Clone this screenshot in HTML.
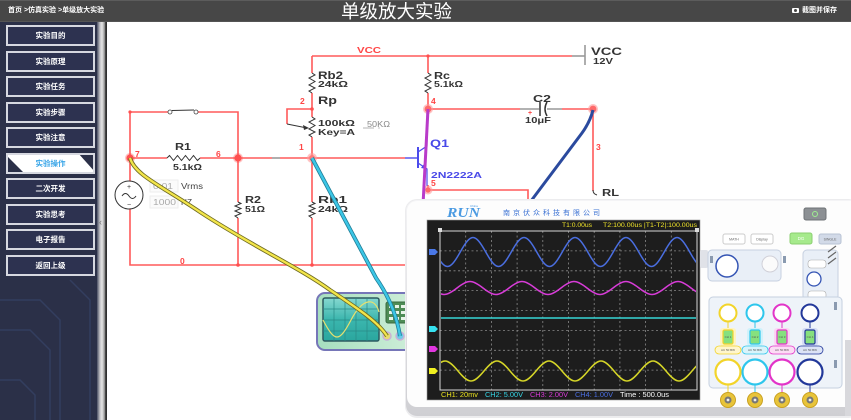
<!DOCTYPE html>
<html><head><meta charset="utf-8">
<style>
*{margin:0;padding:0;box-sizing:border-box}
body{width:851px;height:420px;overflow:hidden;background:#fff;position:relative;font-family:"Liberation Sans","Noto Sans CJK SC",sans-serif}
.hdr{position:absolute;left:0;top:0;width:851px;height:22px;background:#474747;border-top:1px solid #5c5c5c;border-bottom:1px solid #555}
.crumb{position:absolute;left:8px;top:6px;font-size:7px;line-height:9px;color:#fff;white-space:nowrap;font-weight:bold}
.title{position:absolute;left:341px;top:0;font-size:18.5px;line-height:22px;color:#fff;white-space:nowrap;font-family:"Noto Sans CJK SC",sans-serif}
.save{position:absolute;left:802px;top:6px;font-size:7px;line-height:9px;color:#fff;white-space:nowrap;font-weight:bold}
.cam{position:absolute;left:792px;top:8px;width:7px;height:5px;background:#fff;border-radius:1px}
.cam:after{content:"";position:absolute;left:2px;top:1px;width:3px;height:3px;border-radius:50%;background:#474747}
.side{position:absolute;left:0;top:22px;width:97px;height:398px;background:#2b3048}
.btn{position:absolute;left:6px;width:89px;height:21px;border:2px solid #d6d8e0;background:#2d3250;color:#fff;font-size:7.5px;font-weight:bold;text-align:center;line-height:17px;font-family:"Noto Sans CJK SC",sans-serif}
.act{background:#fff;color:#3aa6e8;overflow:hidden}
svg{position:absolute;left:0;top:0}
</style></head><body>
<div class="side"></div>
<svg width="851" height="420" viewBox="0 0 851 420">
<defs>
<linearGradient id="sb" x1="0" x2="1" y1="0" y2="0">
<stop offset="0" stop-color="#4a4f63"/><stop offset="0.3" stop-color="#c4c4c8"/><stop offset="0.5" stop-color="#e6e6e6"/><stop offset="0.75" stop-color="#9a9a9a"/><stop offset="0.85" stop-color="#3a3a3a"/><stop offset="1" stop-color="#2a2a2a"/>
</linearGradient>
<clipPath id="wc"><rect x="441" y="232" width="255" height="157"/></clipPath>
<clipPath id="ic"><rect x="310" y="285" width="97" height="70"/></clipPath>
<linearGradient id="ig" x1="0" x2="1"><stop offset="0" stop-color="#a6dfbf"/><stop offset="1" stop-color="#d4f0dc"/></linearGradient>
<linearGradient id="sg" x1="0" x2="0" y1="0" y2="1"><stop offset="0" stop-color="#86d8d0"/><stop offset="0.5" stop-color="#3bb6ae"/><stop offset="1" stop-color="#2aa69e"/></linearGradient>
<linearGradient id="bs" x1="0" x2="0" y1="0" y2="1"><stop offset="0" stop-color="#f4f4f6"/><stop offset="1" stop-color="#cfcfd3"/></linearGradient>
</defs>
<g stroke="#37456a" stroke-width="1.5" fill="none" opacity="0.7">
<path d="M0,300 H40 L60,320 V420"/><path d="M0,330 H30 L50,350 V420"/><path d="M70,280 L90,300 V420"/><path d="M0,380 H20 L35,395 V420"/>
</g>
<rect x="97" y="22" width="10" height="398" fill="url(#sb)"/>
<text x="99" y="225" font-size="9" fill="#777" font-family="Liberation Sans, sans-serif">‹</text>

<g fill="none" stroke="#ff5a5a" stroke-width="1.6">
<path d="M312,56 H572"/>
<path d="M312,56 V73 M312,93 V117 M312,137 V158"/>
<path d="M312,109 H287 V124"/>
<path d="M428,56 V73 M428,93 V109"/>
<path d="M428,109 H520 M562,109 H593 V191"/>
<path d="M130,158 H167 M200,158 H272 M280,158 H405"/>
<path d="M130,158 V112 H168 M198,112 H238 V158"/>
<path d="M130,158 V181 M130,209 V265 H408"/>
<path d="M238,158 V202 M238,218 V265"/>
<path d="M312,158 V202 M312,218 V265"/>
<path d="M428,185 V190 H528 V200"/>
</g>
<g fill="none" stroke="#999" stroke-width="1.6">
<path d="M572,56 H585"/><path d="M585,45 V65"/>
<path d="M272,158 H280"/>
<path d="M520,109 H539 M547,109 H562"/>
</g>
<path d="M540,102 V116" stroke="#333" stroke-width="1.5"/>
<path d="M547,102 Q543,109 547,116" stroke="#333" stroke-width="1.5" fill="none"/>
<g fill="none" stroke="#333" stroke-width="1">
<polyline points="312,73 315,75 309,78 315,81.5 309,85 315,88 309,91 312,93"/>
<polyline points="428,73 431,75 425,78 431,81.5 425,85 431,88 425,91 428,93"/>
<polyline points="312,117 315,119 309,122 315,125.5 309,129 315,132 309,135 312,137"/>
<polyline points="238,202 241,203.5 235,206 241,208.5 235,211 241,213.5 235,216 238,218"/>
<polyline points="312,202 315,203.5 309,206 315,208.5 309,211 315,213.5 309,216 312,218"/>
<polyline points="167,158 169.5,155.5 173.5,160.5 177.5,155.5 181.5,160.5 185.5,155.5 189.5,160.5 193.5,155.5 197.5,160.5 200,158"/>
<path d="M287,124 L307,128"/>
<path d="M593,190 Q593,194 597,195"/>
</g>
<path d="M309,128 L303,125 L304,130 Z" fill="#333"/>
<line x1="172" y1="110.5" x2="194" y2="110" stroke="#333" stroke-width="1"/>
<circle cx="170" cy="112" r="2" fill="#fff" stroke="#444" stroke-width="0.8"/>
<circle cx="196" cy="112" r="2" fill="#fff" stroke="#444" stroke-width="0.8"/>
<circle cx="129" cy="195" r="14" fill="#fff" stroke="#333" stroke-width="1"/>
<text x="129" y="189" font-size="7" text-anchor="middle" fill="#333" font-family="Liberation Sans, sans-serif">+</text>
<text x="129" y="207" font-size="7" text-anchor="middle" fill="#333" font-family="Liberation Sans, sans-serif">−</text>
<path d="M122,196 q3.5,-5 7,0 t7,0" fill="none" stroke="#333" stroke-width="1"/>
<rect x="150" y="180" width="28" height="12" fill="#fbfbfb" stroke="#eee"/>
<rect x="150" y="196" width="28" height="12" fill="#fbfbfb" stroke="#eee"/>
<g stroke="#4b4bec" fill="none">
<path d="M405,158 H418" stroke-width="1.4"/>
<path d="M418,147 V168" stroke-width="2"/>
<path d="M418,152 L427,146 V109" stroke-width="1.2"/>
<path d="M418,163 L427,169 V186" stroke-width="1.2"/>
</g>
<path d="M427,169 L421,168 L424,164 Z" fill="#4b4bec"/>
<g fill="#ff5050">
<circle cx="130" cy="158" r="5" opacity="0.35"/><circle cx="130" cy="158" r="3.6"/>
<circle cx="238" cy="158" r="5" opacity="0.35"/><circle cx="238" cy="158" r="3.6"/>
<circle cx="312" cy="158" r="5" fill="#ff9a9a" opacity="0.6"/><circle cx="312" cy="158" r="3" fill="#ff7a7a"/>
<circle cx="428" cy="109" r="5" fill="#ff9a9a" opacity="0.6"/><circle cx="428" cy="109" r="3.4" fill="#ff6a6a"/>
<circle cx="593" cy="109" r="5" fill="#ff9a9a" opacity="0.6"/><circle cx="593" cy="109" r="3.4" fill="#ff6a6a"/>
<circle cx="428" cy="190" r="4.5" fill="#ff9a9a" opacity="0.6"/><circle cx="428" cy="190" r="2.6" fill="#ff6a6a"/>
<circle cx="312" cy="109" r="1.8"/><circle cx="428" cy="56" r="1.6"/><circle cx="130" cy="112" r="1.6"/>
<circle cx="238" cy="265" r="1.8"/><circle cx="312" cy="265" r="1.8"/>
</g>
<g font-family="Liberation Sans, sans-serif" font-weight="bold" fill="#333">
<text x="318" y="79" font-size="11" textLength="25" lengthAdjust="spacingAndGlyphs">Rb2</text>
<text x="318" y="87" font-size="8.5" textLength="30" lengthAdjust="spacingAndGlyphs">24kΩ</text>
<text x="318" y="104" font-size="11" textLength="19" lengthAdjust="spacingAndGlyphs">Rp</text>
<text x="318" y="126" font-size="8.5" textLength="37" lengthAdjust="spacingAndGlyphs">100kΩ</text>
<text x="318" y="135" font-size="8.5" textLength="37" lengthAdjust="spacingAndGlyphs">Key=A</text>
<text x="434" y="79" font-size="10.5" textLength="16" lengthAdjust="spacingAndGlyphs">Rc</text>
<text x="434" y="87" font-size="8.5" textLength="29" lengthAdjust="spacingAndGlyphs">5.1kΩ</text>
<text x="591" y="55" font-size="11" textLength="31" lengthAdjust="spacingAndGlyphs">VCC</text>
<text x="593" y="64" font-size="8.5" textLength="20" lengthAdjust="spacingAndGlyphs">12V</text>
<text x="533" y="102" font-size="10.5" textLength="18" lengthAdjust="spacingAndGlyphs">C2</text>
<text x="525" y="123" font-size="8.5" textLength="26" lengthAdjust="spacingAndGlyphs">10μF</text>
<text x="602" y="196" font-size="10.5" textLength="17" lengthAdjust="spacingAndGlyphs">RL</text>
<text x="175" y="150" font-size="10.5" textLength="16" lengthAdjust="spacingAndGlyphs">R1</text>
<text x="173" y="170" font-size="8.5" textLength="29" lengthAdjust="spacingAndGlyphs">5.1kΩ</text>
<text x="245" y="203" font-size="10.5" textLength="16" lengthAdjust="spacingAndGlyphs">R2</text>
<text x="245" y="212" font-size="8.5" textLength="20" lengthAdjust="spacingAndGlyphs">51Ω</text>
<text x="318" y="203" font-size="10.5" textLength="29" lengthAdjust="spacingAndGlyphs">Rb1</text>
<text x="318" y="212" font-size="8.5" textLength="30" lengthAdjust="spacingAndGlyphs">24kΩ</text>
</g>
<g font-family="Liberation Sans, sans-serif" font-weight="bold" fill="#4848e8">
<text x="430" y="147" font-size="11" textLength="19" lengthAdjust="spacingAndGlyphs">Q1</text>
<text x="431" y="178" font-size="8.5" textLength="51" lengthAdjust="spacingAndGlyphs">2N2222A</text>
</g>
<g font-family="Liberation Sans, sans-serif" font-weight="bold" fill="#ff4545" font-size="8.5">
<text x="357" y="53" textLength="24" lengthAdjust="spacingAndGlyphs">VCC</text>
<text x="300" y="104">2</text>
<text x="299" y="150">1</text>
<text x="431" y="104">4</text>
<text x="596" y="150">3</text>
<text x="431" y="186">5</text>
<text x="135" y="157">7</text>
<text x="216" y="157">6</text>
<text x="180" y="264">0</text>
<text x="528" y="115" font-size="7">+</text>
</g>
<g font-family="Liberation Sans, sans-serif" font-size="8.5">
<text x="367" y="127" fill="#888" textLength="23" lengthAdjust="spacingAndGlyphs">50KΩ</text>
<text x="153" y="189" fill="#aaa" textLength="20" lengthAdjust="spacingAndGlyphs">0.01</text>
<text x="181" y="189" fill="#444" textLength="22" lengthAdjust="spacingAndGlyphs">Vrms</text>
<text x="153" y="205" fill="#aaa" textLength="23" lengthAdjust="spacingAndGlyphs">1000</text>
<text x="181" y="205" fill="#444" textLength="11" lengthAdjust="spacingAndGlyphs">HZ</text>
</g>
<path d="M363,128 H374" stroke="#ccc" stroke-width="1.5"/><circle cx="379" cy="128" r="0.9" fill="#ccc"/>

<g clip-path="url(#ic)">
<rect x="317" y="293" width="110" height="57" rx="8" fill="url(#ig)" stroke="#7676b8" stroke-width="2"/>
<rect x="323" y="298" width="56" height="43" rx="2" fill="url(#sg)" stroke="#2d5a60" stroke-width="1.5"/>
<g stroke="#2a8a86" stroke-width="0.7">
<path d="M334,298 V341 M345,298 V341 M356,298 V341 M367,298 V341 M323,309 H379 M323,320 H379 M323,331 H379"/>
</g>
<path d="M323,320 C334.9,342.7 339.1,342.7 351,320 S374.9,297.3 379,312" fill="none" stroke="#e6e070" stroke-width="1.2"/>
<rect x="386" y="302" width="24" height="21" rx="2" fill="#4e8c56" stroke="#3a6a40"/>
<g fill="#e8f4e8"><rect x="389" y="305" width="4" height="3"/><rect x="395" y="305" width="4" height="3"/><rect x="401" y="305" width="4" height="3"/><rect x="389" y="311" width="4" height="3"/><rect x="395" y="311" width="4" height="3"/><rect x="401" y="311" width="4" height="3"/><rect x="389" y="317" width="4" height="3"/><rect x="395" y="317" width="4" height="3"/><rect x="401" y="317" width="4" height="3"/></g>
</g>
<circle cx="387" cy="336" r="4" fill="#e6dc70" stroke="#c8b0d8" stroke-width="1.5"/>
<circle cx="400" cy="336" r="4" fill="#70cce6" stroke="#c8b0d8" stroke-width="1.5"/>

<path d="M130,158 C135,175 160,185 200,212 C250,245 300,268 330,290 C360,310 378,322 387,336" fill="none" stroke="#6e6a22" stroke-width="4"/>
<path d="M130,158 C135,175 160,185 200,212 C250,245 300,268 330,290 C360,310 378,322 387,336" fill="none" stroke="#f2e54a" stroke-width="2.3"/>
<path d="M312,158 L376,278 Q395,305 400,336" fill="none" stroke="#1f7d96" stroke-width="4"/>
<path d="M312,158 L376,278 Q395,305 400,336" fill="none" stroke="#3cc6e6" stroke-width="2.4"/>
<path d="M428,109 L423,205" fill="none" stroke="#b93bc9" stroke-width="3"/>
<path d="M593,110 Q590,122 582,133 L528,205" fill="none" stroke="#2b4a9e" stroke-width="3"/>

<rect x="405" y="199" width="455" height="219" rx="12" fill="#ececee"/>
<rect x="406" y="200" width="455" height="216" rx="11" fill="url(#bs)"/>
<rect x="407" y="201" width="455" height="206" rx="10" fill="#fdfdfd"/>
<rect x="845" y="340" width="6" height="76" fill="#d8d8dc"/>
<text x="447" y="217" font-family="Liberation Serif, serif" font-style="italic" font-weight="bold" font-size="14" fill="#4a9ae2" textLength="33" lengthAdjust="spacingAndGlyphs">RUN</text>
<text x="470" y="207" font-family="Liberation Sans, sans-serif" font-size="3" fill="#4a9ae2">China</text>
<text x="503" y="215" font-family="Noto Sans CJK SC, sans-serif" font-size="7" fill="#3c72d4" textLength="97">南京伏众科技有限公司</text>
<rect x="427" y="220" width="273" height="180" fill="#1d1d1d" stroke="#9a9a9a" stroke-width="0.6"/>
<text x="562" y="227" font-family="Liberation Sans, sans-serif" font-size="6.8" fill="#f2e62a" textLength="30" lengthAdjust="spacingAndGlyphs">T1:0.00us</text>
<text x="603" y="227" font-family="Liberation Sans, sans-serif" font-size="6.8" fill="#f2e62a" textLength="94" lengthAdjust="spacingAndGlyphs">T2:100.00us |T1-T2|:100.00us</text>
<g stroke="#8a8a8a" stroke-width="0.8" stroke-dasharray="2,2.5">
<path d="M465.7,231 V390 M491.4,231 V390 M517.1,231 V390 M542.8,231 V390 M568.5,231 V390 M594.2,231 V390 M619.9,231 V390 M645.6,231 V390 M671.3,231 V390"/>
<path d="M440,250.9 H697 M440,270.8 H697 M440,290.6 H697 M440,310.5 H697 M440,330.4 H697 M440,350.3 H697 M440,370.1 H697"/>
</g>
<rect x="440" y="231" width="257" height="159" fill="none" stroke="#d8d8d8" stroke-width="1"/>
<rect x="438" y="228" width="4" height="4" fill="#ddd"/><rect x="695" y="228" width="4" height="4" fill="#ddd"/>
<g clip-path="url(#wc)" fill="none" stroke-width="1.5">
<path stroke="#4a6ee0" d="M409.25,252 C420.07,232.67 423.93,232.67 434.75,252 S449.43,271.33 460.25,252 S474.93,232.67 485.75,252 S500.43,271.33 511.25,252 S525.93,232.67 536.75,252 S551.43,271.33 562.25,252 S576.93,232.67 587.75,252 S602.43,271.33 613.25,252 S627.93,232.67 638.75,252 S653.43,271.33 664.25,252 S678.93,232.67 689.75,252 S704.43,271.33 715.25,252"/>
<path stroke="#d83cd8" d="M405,288 C416.03,279.33 419.97,279.33 431,288 S445.97,296.67 457,288 S471.97,279.33 483,288 S497.97,296.67 509,288 S523.97,279.33 535,288 S549.97,296.67 561,288 S575.97,279.33 587,288 S601.97,296.67 613,288 S627.97,279.33 639,288 S653.97,296.67 665,288 S679.97,279.33 691,288 S705.97,296.67 717,288"/>
<path stroke="#36d6d6" d="M440,318 H697"/>
<path stroke="#d6d628" d="M432,371 C443.03,357.67 446.97,357.67 458,371 S472.97,384.33 484,371 S498.97,357.67 510,371 S524.97,384.33 536,371 S550.97,357.67 562,371 S576.97,384.33 588,371 S602.97,357.67 614,371 S628.97,384.33 640,371 S654.97,357.67 666,371 S680.97,384.33 692,371 S706.97,357.67 718,371"/>
</g>
<polygon points="429,249 435,249 438,252 435,255 429,255" fill="#4a78e8"/>
<polygon points="429,326 435,326 438,329 435,332 429,332" fill="#36e2f0"/>
<polygon points="429,346 435,346 438,349 435,352 429,352" fill="#e236e0"/>
<polygon points="429,368 435,368 438,371 435,374 429,374" fill="#f0f020"/>
<g font-family="Liberation Sans, sans-serif" font-size="7">
<text x="441" y="397" fill="#e8e020" textLength="37" lengthAdjust="spacingAndGlyphs">CH1:  20mv</text>
<text x="485" y="397" fill="#36d6e6" textLength="38" lengthAdjust="spacingAndGlyphs">CH2:  5.00V</text>
<text x="530" y="397" fill="#d83cd8" textLength="38" lengthAdjust="spacingAndGlyphs">CH3:  2.00V</text>
<text x="575" y="397" fill="#4a6ee0" textLength="38" lengthAdjust="spacingAndGlyphs">CH4:  1.00V</text>
<text x="620" y="397" fill="#ffffff" textLength="49" lengthAdjust="spacingAndGlyphs">Time : 500.0us</text>
</g>
<rect x="700" y="250" width="8" height="18" rx="2" fill="#e0e2e8"/>

<rect x="804" y="208" width="22" height="12" rx="2" fill="#8c9094" stroke="#6e7276"/>
<circle cx="815" cy="214" r="2.5" fill="none" stroke="#9ef090" stroke-width="1"/>
<g font-family="Liberation Sans, sans-serif" font-size="3.5" fill="#666" text-anchor="middle">
<rect x="723" y="234" width="22" height="10" rx="2" fill="#fff" stroke="#ccc"/><text x="734" y="240.5">MATH</text>
<rect x="751" y="234" width="22" height="10" rx="2" fill="#fff" stroke="#ccc"/><text x="762" y="240.5">Display</text>
<rect x="790" y="233" width="22" height="11" rx="2" fill="#a6ea8c" stroke="#8acf70"/><text x="801" y="240" fill="#fff" font-size="4.5">DG</text>
<rect x="819" y="234" width="22" height="10" rx="2" fill="#d2dae8" stroke="#b8c2d4"/><text x="830" y="240.5">SINGLE</text>
</g>
<rect x="708" y="250" width="73" height="31" rx="4" fill="#e9eff7" stroke="#c6d0e0"/>
<circle cx="727" cy="266" r="11" fill="#fff" stroke="#3454b4" stroke-width="1.5"/>
<circle cx="770" cy="264" r="8" fill="#fbfbfb" stroke="#d0d0d8" stroke-width="1"/>
<rect x="710" y="256" width="3" height="7" fill="#8a9ab0"/><rect x="783" y="256" width="3" height="7" fill="#8a9ab0"/>
<rect x="803" y="250" width="35" height="50" rx="4" fill="#e9eff7" stroke="#c6d0e0"/>
<rect x="808" y="260" width="18" height="8" rx="3" fill="#fff" stroke="#aaa" stroke-width="0.6"/>
<circle cx="814" cy="279" r="7" fill="#fff" stroke="#3454b4" stroke-width="1.3"/>
<rect x="808" y="291" width="18" height="8" rx="3" fill="#fff" stroke="#aaa" stroke-width="0.6"/>
<path d="M828,252 L836,246 M828,258 L836,252 M828,264 L836,258" stroke="#666" stroke-width="1.2"/>
<rect x="709" y="297" width="133" height="91" rx="4" fill="#eef3f9" stroke="#c5d0e0"/>
<rect x="834" y="302" width="3" height="8" fill="#8a9ab0"/><rect x="834" y="360" width="3" height="8" fill="#8a9ab0"/>
<g>
<g stroke="#f2d42a">
<circle cx="728" cy="313" r="8.5" fill="#fff" stroke-width="2"/>
<rect x="720" y="328" width="16" height="18" rx="3" fill="#fff4c0" stroke="none"/>
<rect x="723" y="330" width="10" height="14" rx="1.5" fill="#86e07e" stroke-width="1.2"/>
<rect x="715" y="346" width="26" height="8" rx="4" fill="#fff6cc" stroke-width="0.8"/>
<circle cx="728" cy="372" r="12.5" fill="#fff" stroke-width="2.2"/>
<path d="M728,321.5 V328 M728,384.5 V393" stroke-width="1"/>
</g>
<g stroke="#2ec6ec">
<circle cx="755" cy="313" r="8.5" fill="#fff" stroke-width="2"/>
<rect x="747" y="328" width="16" height="18" rx="3" fill="#d0f2fb" stroke="none"/>
<rect x="750" y="330" width="10" height="14" rx="1.5" fill="#86e07e" stroke-width="1.2"/>
<rect x="742" y="346" width="26" height="8" rx="4" fill="#d8f4fb" stroke-width="0.8"/>
<circle cx="755" cy="372" r="12.5" fill="#fff" stroke-width="2.2"/>
<path d="M755,321.5 V328 M755,384.5 V393" stroke-width="1"/>
</g>
<g stroke="#e234c8">
<circle cx="782" cy="313" r="8.5" fill="#fff" stroke-width="2"/>
<rect x="774" y="328" width="16" height="18" rx="3" fill="#fbd6f3" stroke="none"/>
<rect x="777" y="330" width="10" height="14" rx="1.5" fill="#86e07e" stroke-width="1.2"/>
<rect x="769" y="346" width="26" height="8" rx="4" fill="#fcdcf5" stroke-width="0.8"/>
<circle cx="782" cy="372" r="12.5" fill="#fff" stroke-width="2.2"/>
<path d="M782,321.5 V328 M782,384.5 V393" stroke-width="1"/>
</g>
<g stroke="#22389a">
<circle cx="810" cy="313" r="8.5" fill="#fff" stroke-width="2"/>
<rect x="802" y="328" width="16" height="18" rx="3" fill="#d4dcf4" stroke="none"/>
<rect x="805" y="330" width="10" height="14" rx="1.5" fill="#86e07e" stroke-width="1.2"/>
<rect x="797" y="346" width="26" height="8" rx="4" fill="#dce3f6" stroke-width="0.8"/>
<circle cx="810" cy="372" r="12.5" fill="#fff" stroke-width="2.2"/>
<path d="M810,321.5 V328 M810,384.5 V393" stroke-width="1"/>
</g>
</g>
<g font-family="Liberation Sans, sans-serif" font-size="3" fill="#555" text-anchor="middle">
<text x="728" y="351.2">AC 50 BW</text><text x="755" y="351.2">AC 50 BW</text><text x="782" y="351.2">AC 50 BW</text><text x="810" y="351.2">AC 50 BW</text>
<text x="728" y="338">CH 1</text><text x="755" y="338">CH 2</text><text x="782" y="338">CH 3</text><text x="810" y="338">CH 4</text>
</g>
<g>
<circle cx="728" cy="400" r="7.5" fill="#e8c43a" stroke="#c9a020"/><circle cx="728" cy="400" r="3.5" fill="#777"/><circle cx="728" cy="400" r="1.4" fill="#eee"/>
<circle cx="755" cy="400" r="7.5" fill="#e8c43a" stroke="#c9a020"/><circle cx="755" cy="400" r="3.5" fill="#777"/><circle cx="755" cy="400" r="1.4" fill="#eee"/>
<circle cx="782" cy="400" r="7.5" fill="#e8c43a" stroke="#c9a020"/><circle cx="782" cy="400" r="3.5" fill="#777"/><circle cx="782" cy="400" r="1.4" fill="#eee"/>
<circle cx="810" cy="400" r="7.5" fill="#e8c43a" stroke="#c9a020"/><circle cx="810" cy="400" r="3.5" fill="#777"/><circle cx="810" cy="400" r="1.4" fill="#eee"/>
</g>
</svg>

<div class="hdr"></div>
<div class="crumb">首页 &gt;仿真实验 &gt;单级放大实验</div>
<div class="title">单级放大实验</div>
<div class="cam"></div>
<div class="save">截图并保存</div>

<div class="btn" style="top:25px">实验目的</div>
<div class="btn" style="top:50.5px">实验原理</div>
<div class="btn" style="top:76px">实验任务</div>
<div class="btn" style="top:101.5px">实验步骤</div>
<div class="btn" style="top:127px">实验注意</div>
<div class="btn act" style="top:152.5px">
<svg width="89" height="21" style="position:absolute;left:-2px;top:-2px"><polygon points="0,2 19,21 0,21" fill="#2b3048"/><polygon points="72,0 89,0 89,19" fill="#2b3048"/></svg>
<span style="position:relative">实验操作</span></div>
<div class="btn" style="top:178px">二次开发</div>
<div class="btn" style="top:203.5px">实验思考</div>
<div class="btn" style="top:229px">电子报告</div>
<div class="btn" style="top:254.5px">返回上级</div>
</body></html>
